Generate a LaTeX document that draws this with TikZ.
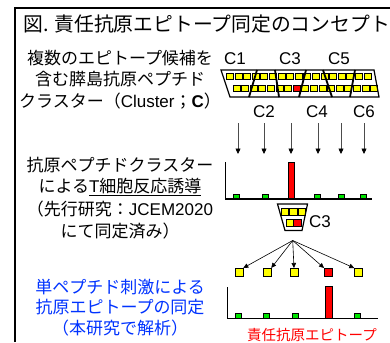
\documentclass[tikz,border=0pt]{standalone}
\usepackage{fontspec}
\setmainfont{Liberation Sans}
\newfontfamily\jp{Noto Sans CJK JP}
\usetikzlibrary{arrows.meta}
\definecolor{cyel}{RGB}{255,255,0}
\definecolor{cred}{RGB}{255,0,0}
\definecolor{cgrn}{RGB}{0,230,0}
\definecolor{cblue}{RGB}{0,51,255}
\begin{document}
\begin{tikzpicture}[x=1pt,y=-1pt,
  jpt/.style={font=\jp\fontsize{17}{20}\selectfont, inner sep=0pt},
  ttl/.style={font=\jp\fontsize{19.8}{22}\selectfont, inner sep=0pt, anchor=west},
  clabel/.style={font=\fontsize{17}{20}\selectfont, inner sep=0pt},
  sq/.style={draw=black, line width=0.4pt, fill=cyel, minimum width=7pt, minimum height=6.5pt, inner sep=0pt, anchor=north west},
  fsq/.style={draw=black, line width=0.5pt, fill=cyel, minimum width=8pt, minimum height=7.5pt, inner sep=0pt},
  gsq/.style={draw=black, line width=0.4pt, fill=cgrn, minimum width=6pt, minimum height=4.8pt, inner sep=0pt, anchor=south},
  rbar/.style={draw=black, line width=0.4pt, fill=cred, minimum width=6.5pt, inner sep=0pt, anchor=south},
  axisln/.style={line width=1.1pt, line join=miter},
  varrow/.style={draw=black!70, line width=0.7pt, -{Triangle[length=5.5pt,width=5pt,color=black]}},
  farrow/.style={draw=black, line width=0.6pt, -{Triangle[length=5pt,width=4.5pt]}}
]
\useasboundingbox (0,0) rectangle (390,342);
\fill[white] (0,0) rectangle (390,342);
% frame
\draw[line width=2pt, line join=miter] (15,342) -- (15,8) -- (390,8);

% title
\node[ttl] (title) at (23,24) {図. 責任抗原エピトープ同定のコンセプト};

% left texts
\node[jpt] (l1) at (120,58) {複数のエピトープ候補を};
\node[jpt] (l2) at (120,79.5) {含む膵島抗原ペプチド};
\node[jpt] (l3) at (120,101) {クラスター（{\rmfamily Cluster}；{\rmfamily\bfseries C}）};

\node[jpt] (m1) at (120,165) {抗原ペプチドクラスター};
\node[jpt] (m2) at (120,187) {による\underline{{\rmfamily T}細胞反応誘導}};
\node[jpt] (m3) at (120,209) {（先行研究：{\rmfamily JCEM2020}};
\node[jpt] (m4) at (120,231) {にて同定済み）};

\node[jpt, text=cblue] (b1) at (120,287) {単ペプチド刺激による};
\node[jpt, text=cblue] (b2) at (120,307.5) {抗原エピトープの同定};
\node[jpt, text=cblue] (b3) at (120,328) {（本研究で解析）};

% cluster bar squares
\foreach \i in {0,...,16} {
  \node[sq] (top\i) at ({226+8.6*\i},73) {};
}
\foreach \i in {0,...,16} {
  \ifnum\i=7 \def\cc{cred}\else\def\cc{cyel}\fi
  \node[sq, fill=\cc] (bot\i) at ({232.5+8.6*\i},85) {};
}
\draw[line width=1.2pt, line join=miter] (221,70) -- (374,70) -- (379,97) -- (230,97) -- cycle;
\foreach \a/\b in {257/249, 275/279, 306/299, 323/332, 355/350} {
  \draw[line width=1.8pt] (\a,70) -- (\b,97);
}
% cluster labels
\node[clabel] (c1) at (235,59) {C1};
\node[clabel] (c3) at (290,59) {C3};
\node[clabel] (c5) at (339,59) {C5};
\node[clabel] (c2) at (264,112) {C2};
\node[clabel] (c4) at (317,112) {C4};
\node[clabel] (c6) at (364,112) {C6};

% vertical arrows
\foreach \x [count=\k] in {238,264,291,318,341,364} {
  \coordinate (va\k) at (\x,123);
  \coordinate (vb\k) at (\x,154);
  \draw[varrow] (va\k) -- (vb\k);
}

% chart 1
\foreach \x [count=\k] in {236.5,265,317.5,340.7,363.5} {
  \node[gsq] (ga\k) at (\x,199) {};
}
\node[rbar, minimum height=37pt] (ra) at (291.3,199) {};
\draw[axisln] (225.5,162) -- (225.5,199) -- (372,199);

% C3 cut-out
\fill[white] (277.5,204) -- (307.5,204) -- (302,230.5) -- (285,230.5) -- cycle;
\node[sq, minimum width=7.5pt, minimum height=7pt] (k1) at (280.5,208) {};
\node[sq, minimum width=7.5pt, minimum height=7pt] (k2) at (289,208) {};
\node[sq, minimum width=7.5pt, minimum height=7pt] (k3) at (297.5,208) {};
\node[sq, minimum width=6.5pt, minimum height=6.5pt] (k4) at (286,219) {};
\node[sq, fill=cred, minimum width=8pt, minimum height=6.5pt] (k5) at (293,219) {};
\draw[line width=1.2pt, line join=miter] (277.5,204) -- (307.5,204) -- (302,230.5) -- (285,230.5) -- cycle;
\node[clabel] (c3b) at (320,221.5) {C3};

% fan
\coordinate (apex) at (292.7,240.5);
\node[fsq] (s1) at (239,272) {};
\node[fsq] (s2) at (267,272) {};
\node[fsq] (s3) at (294,272) {};
\node[fsq, fill=cred] (s4) at (328.3,272) {};
\node[fsq] (s5) at (358.5,272) {};
\draw[farrow] (apex) -- (s1.north east);
\draw[farrow] (apex) -- (s2.north east);
\draw[farrow] (apex) -- (s3.north);
\draw[farrow] (apex) -- (s4.north west);
\draw[farrow] (apex) -- (s5.north west);

% chart 2
\foreach \x [count=\k] in {238.5,266.5,295.3,357.2} {
  \node[gsq] (gb\k) at (\x,318.3) {};
}
\node[rbar, minimum height=31.5pt] (rb) at (328.6,318.3) {};
\draw[axisln] (227.3,287) -- (227.3,318.3) -- (378,318.3);

% red label
\node[font=\jp\fontsize{14.5}{16}\selectfont, text=cred, inner sep=0pt] (resp) at (312,335) {責任抗原エピトープ};
\end{tikzpicture}
\end{document}
